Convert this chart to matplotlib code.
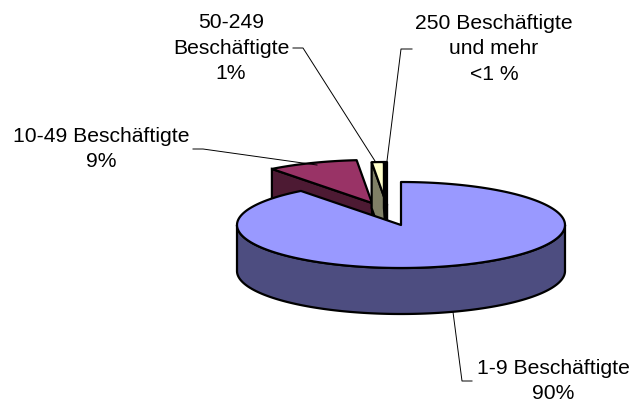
import numpy as np
import matplotlib
matplotlib.use("Agg")
import matplotlib.pyplot as plt
from matplotlib.patches import Polygon

plt.rcParams['font.family'] = ['Liberation Sans', 'DejaVu Sans']

# shares in percent, clockwise from 12 o'clock
categories = ["1-9 Beschäftigte", "10-49 Beschäftigte", "50-249 Beschäftigte", "250 Beschäftigte und mehr"]
shares = [90, 9, 1.2, 0.3]
top_colors = ["#9999ff", "#993366", "#ffffcc", "#000000"]
side_colors = ["#4d4d80", "#4d1a33", "#808066", "#000000"]
labels = ["1-9 Beschäftigte\n90%", "10-49 Beschäftigte\n9%", "50-249\nBeschäftigte\n1%", "250 Beschäftigte\nund mehr\n<1 %"]

# pixel coordinates
cx, cy = 401, 225
rx, ry = 164, 43
depth = 46
offsets = [(0, 0), (-29, -22), (-14, -20), (-14, -20)]

fig = plt.figure(figsize=(6.31, 4.04), dpi=100)
ax = fig.add_axes([0, 0, 1, 1])
ax.set_xlim(0, 631)
ax.set_ylim(404, 0)
ax.axis('off')


def rim(a0, a1, ox, oy):
    t = np.radians(np.linspace(a0, a1, 200))
    return np.column_stack([cx + ox + rx * np.sin(t), cy + oy - ry * np.cos(t)])


fracs = np.array(shares) / sum(shares) * 360
starts = np.concatenate([[0], np.cumsum(fracs)[:-1]])

# back slices first so the big one covers them
for i in [1, 2, 3, 0]:
    a0, a1 = starts[i], starts[i] + fracs[i]
    ox, oy = offsets[i]
    apex = np.array([[cx + ox, cy + oy]])
    edge = rim(a0, a1, ox, oy)
    if i == 0:
        # outer wall, only the front half shows
        front = rim(90, 270, ox, oy)
        wall = np.vstack([front, (front + [0, depth])[::-1]])
        ax.add_patch(Polygon(wall, fc=side_colors[i], ec='black', lw=1.6, joinstyle='round'))
    else:
        # cut face towards the viewer
        first = np.vstack([apex, edge[:1], edge[:1] + [0, depth], apex + [0, depth]])
        ax.add_patch(Polygon(first, fc=side_colors[i], ec='black', lw=1.6))
    ax.add_patch(Polygon(np.vstack([apex, edge]), fc=top_colors[i], ec='black', lw=1.6, joinstyle='round'))

# leader lines
ax.plot([193, 203, 317], [149, 149, 165], color='black', lw=0.7)
ax.plot([293, 303, 375], [48, 48, 161], color='black', lw=0.7)
ax.plot([412, 401, 387], [49, 49, 161], color='black', lw=0.7)
ax.plot([453, 462, 472], [312, 381, 381], color='black', lw=0.7)

fs = 15.2
ax.text(101, 149, labels[1], ha='center', va='center', fontsize=fs, linespacing=1.42)
ax.text(231, 48, labels[2], ha='center', va='center', fontsize=fs, linespacing=1.42)
ax.text(494, 49, labels[3], ha='center', va='center', fontsize=fs, linespacing=1.42)
ax.text(553, 381, labels[0], ha='center', va='center', fontsize=fs, linespacing=1.42)

fig.savefig("out.png", dpi=100)
